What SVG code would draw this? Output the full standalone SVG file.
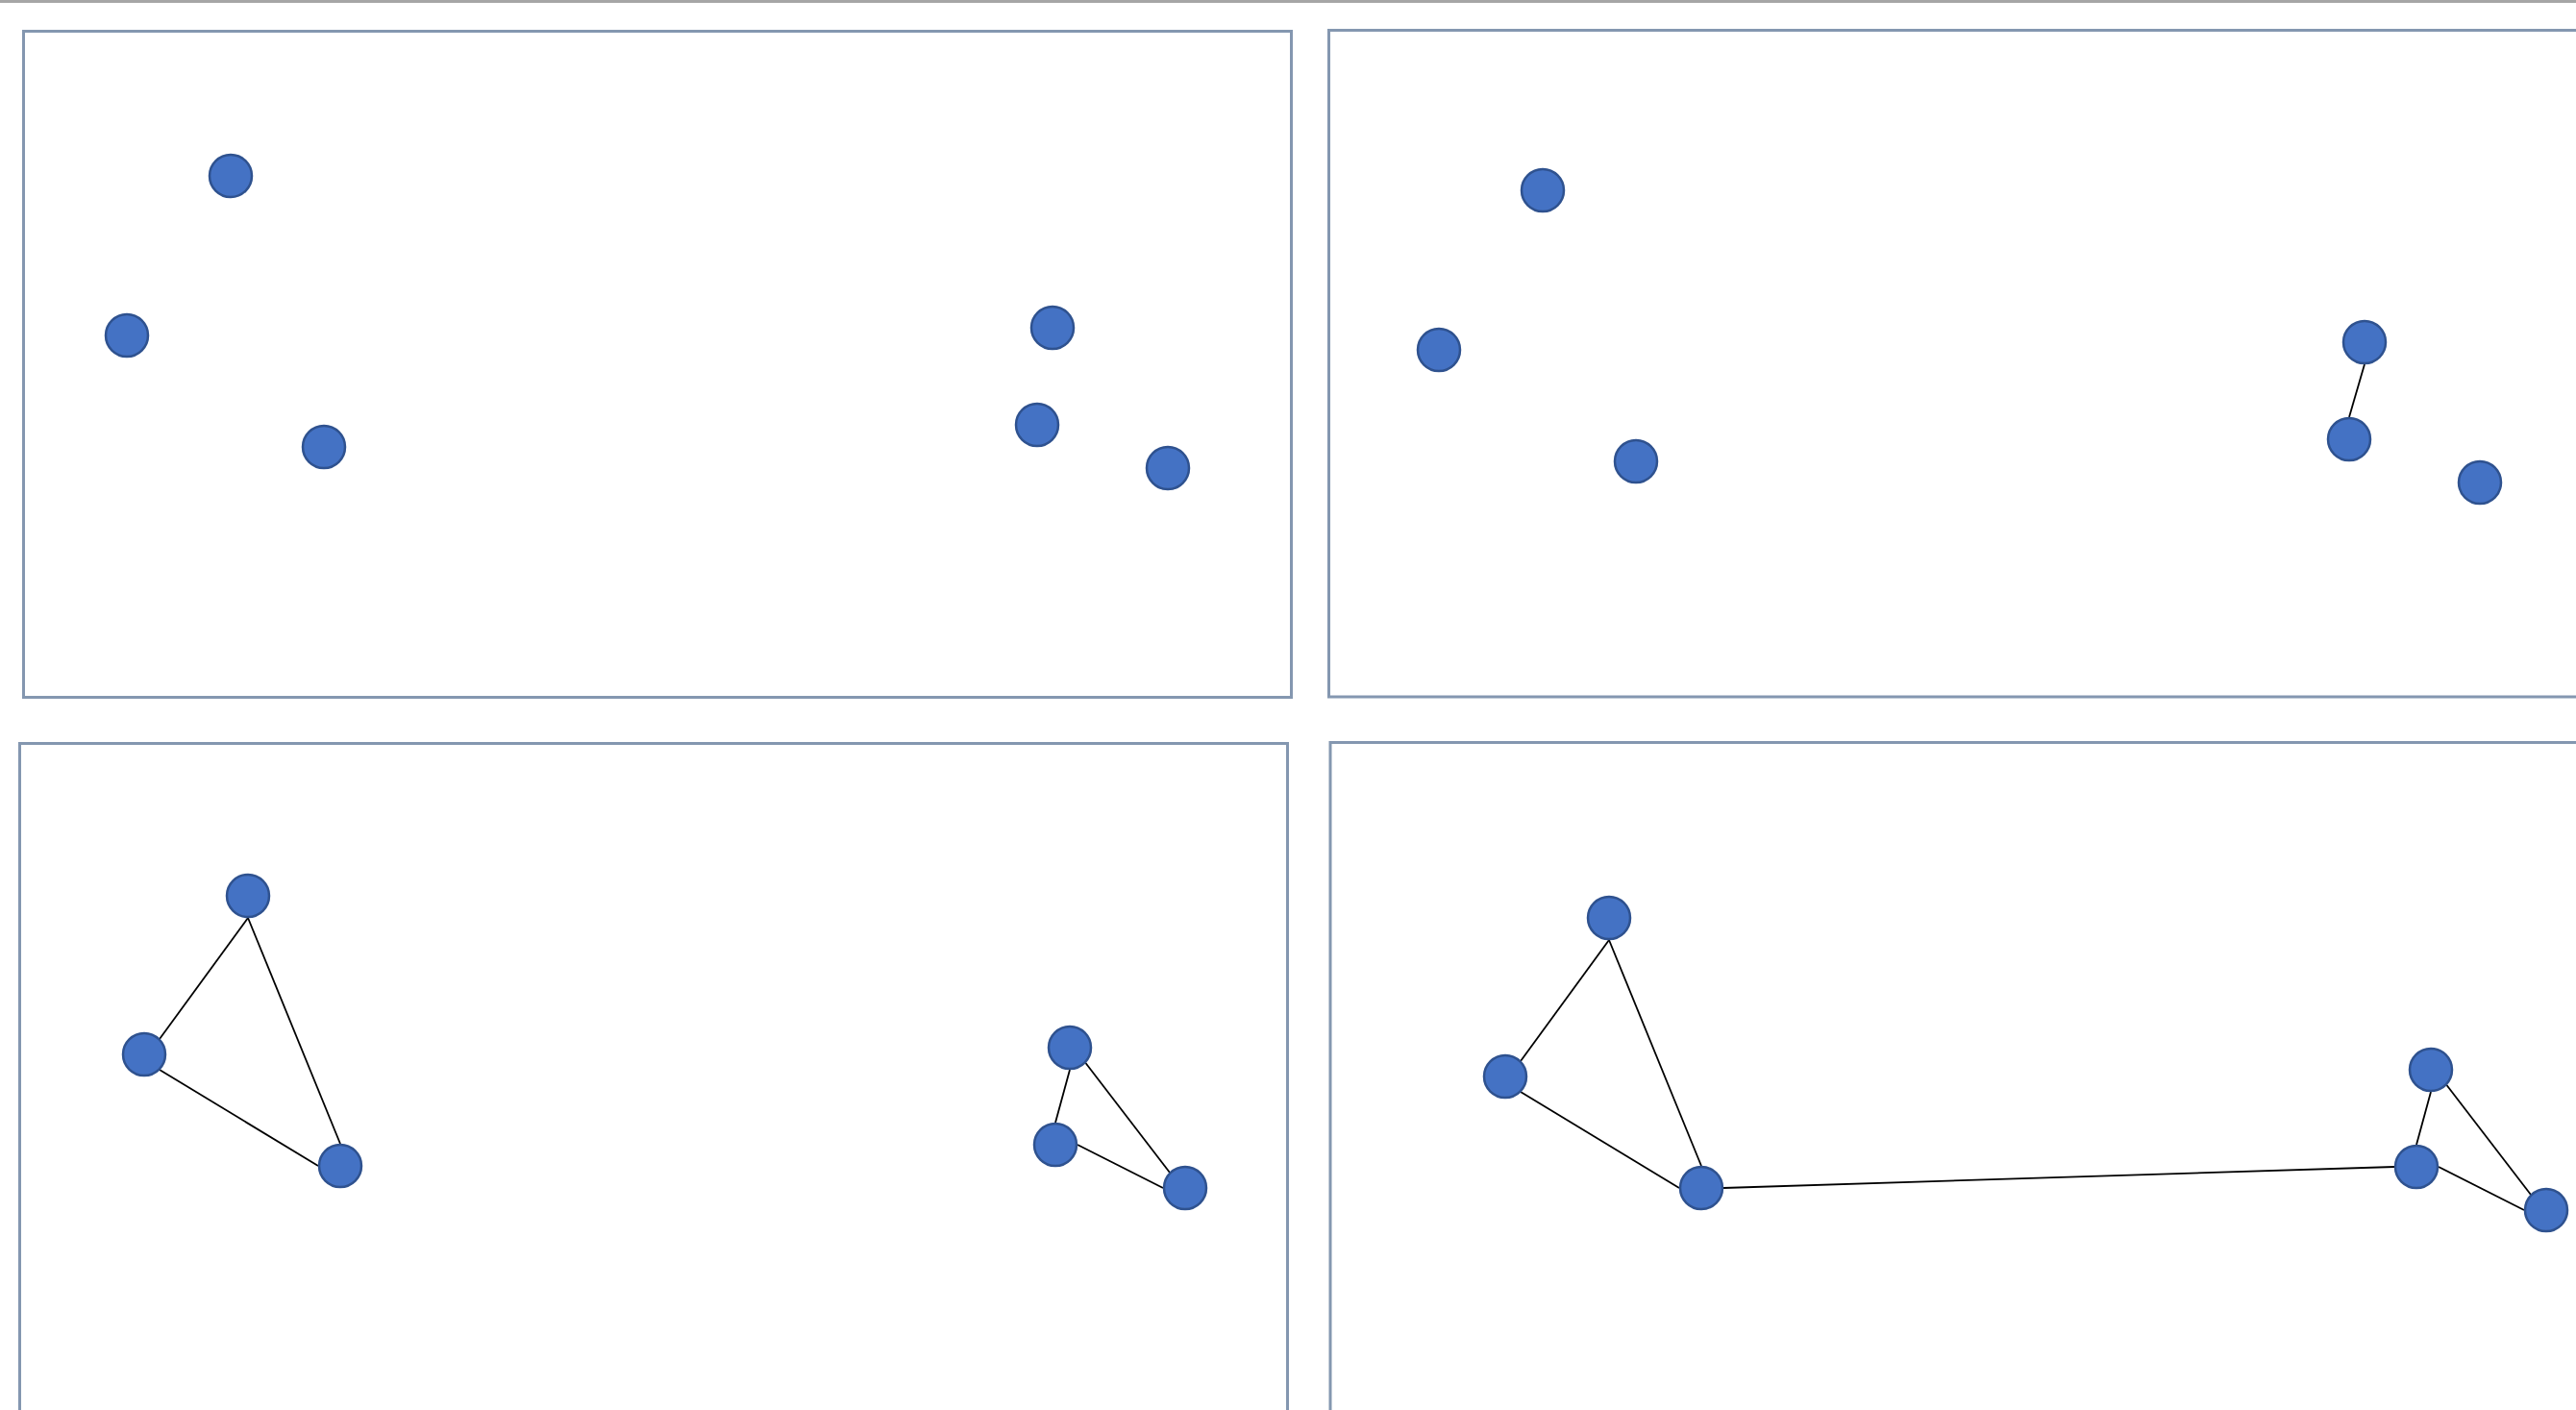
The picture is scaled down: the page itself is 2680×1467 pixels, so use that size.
<svg xmlns="http://www.w3.org/2000/svg" width="2680" height="1467" viewBox="0 0 2680 1467">
<style>
.panel{fill:#ffffff;stroke:#8497b0;stroke-width:3}
.node{fill:#4472c4;stroke:#2f528f;stroke-width:2.5}
.edge{stroke:#000000;stroke-width:1.8;fill:none}
</style>
<rect x="0" y="0" width="2680" height="1467" fill="#ffffff"/>
<rect x="0" y="0" width="2680" height="3" fill="#a6a6a6"/>
<g id="panels">
<rect class="panel" x="24.5" y="32.5" width="1319" height="693"/>
<rect class="panel" x="1382.5" y="31.5" width="1310" height="693.5"/>
<rect class="panel" x="20.5" y="773.5" width="1319" height="700"/>
<rect class="panel" x="1384" y="772.5" width="1310" height="700"/>
</g>
<g id="connectors">
<line class="edge" x1="2460" y1="379" x2="2444" y2="434"/>
<line class="edge" x1="258" y1="955" x2="166" y2="1081"/>
<line class="edge" x1="258" y1="955" x2="354" y2="1190"/>
<line class="edge" x1="166" y1="1113" x2="331" y2="1213"/>
<line class="edge" x1="1113" y1="1113" x2="1098" y2="1168"/>
<line class="edge" x1="1129.5" y1="1106" x2="1217" y2="1220"/>
<line class="edge" x1="1121" y1="1191" x2="1210" y2="1236"/>
<line class="edge" x1="1674" y1="978" x2="1582" y2="1104"/>
<line class="edge" x1="1674" y1="978" x2="1770" y2="1213"/>
<line class="edge" x1="1582" y1="1136" x2="1747" y2="1236"/>
<line class="edge" x1="1793" y1="1236" x2="2491" y2="1214"/>
<line class="edge" x1="2529" y1="1136" x2="2514" y2="1191"/>
<line class="edge" x1="2545.5" y1="1129" x2="2633" y2="1243"/>
<line class="edge" x1="2537" y1="1214" x2="2626" y2="1259"/>
</g>
<g id="p1-n1"><circle class="node" cx="240" cy="183" r="22"/></g>
<g id="p1-n2"><circle class="node" cx="132" cy="349" r="22"/></g>
<g id="p1-n3"><circle class="node" cx="337" cy="465" r="22"/></g>
<g id="p1-n4"><circle class="node" cx="1095" cy="341" r="22"/></g>
<g id="p1-n5"><circle class="node" cx="1079" cy="442" r="22"/></g>
<g id="p1-n6"><circle class="node" cx="1215" cy="487" r="22"/></g>
<g id="p2-n1"><circle class="node" cx="1605" cy="198" r="22"/></g>
<g id="p2-n2"><circle class="node" cx="1497" cy="364" r="22"/></g>
<g id="p2-n3"><circle class="node" cx="1702" cy="480" r="22"/></g>
<g id="p2-n4"><circle class="node" cx="2460" cy="356" r="22"/></g>
<g id="p2-n5"><circle class="node" cx="2444" cy="457" r="22"/></g>
<g id="p2-n6"><circle class="node" cx="2580" cy="502" r="22"/></g>
<g id="p3-n1"><circle class="node" cx="258" cy="932" r="22"/></g>
<g id="p3-n2"><circle class="node" cx="150" cy="1097" r="22"/></g>
<g id="p3-n3"><circle class="node" cx="354" cy="1213" r="22"/></g>
<g id="p3-n4"><circle class="node" cx="1113" cy="1090" r="22"/></g>
<g id="p3-n5"><circle class="node" cx="1098" cy="1191" r="22"/></g>
<g id="p3-n6"><circle class="node" cx="1233" cy="1236" r="22"/></g>
<g id="p4-n1"><circle class="node" cx="1674" cy="955" r="22"/></g>
<g id="p4-n2"><circle class="node" cx="1566" cy="1120" r="22"/></g>
<g id="p4-n3"><circle class="node" cx="1770" cy="1236" r="22"/></g>
<g id="p4-n4"><circle class="node" cx="2529" cy="1113" r="22"/></g>
<g id="p4-n5"><circle class="node" cx="2514" cy="1214" r="22"/></g>
<g id="p4-n6"><circle class="node" cx="2649" cy="1259" r="22"/></g>
</svg>
